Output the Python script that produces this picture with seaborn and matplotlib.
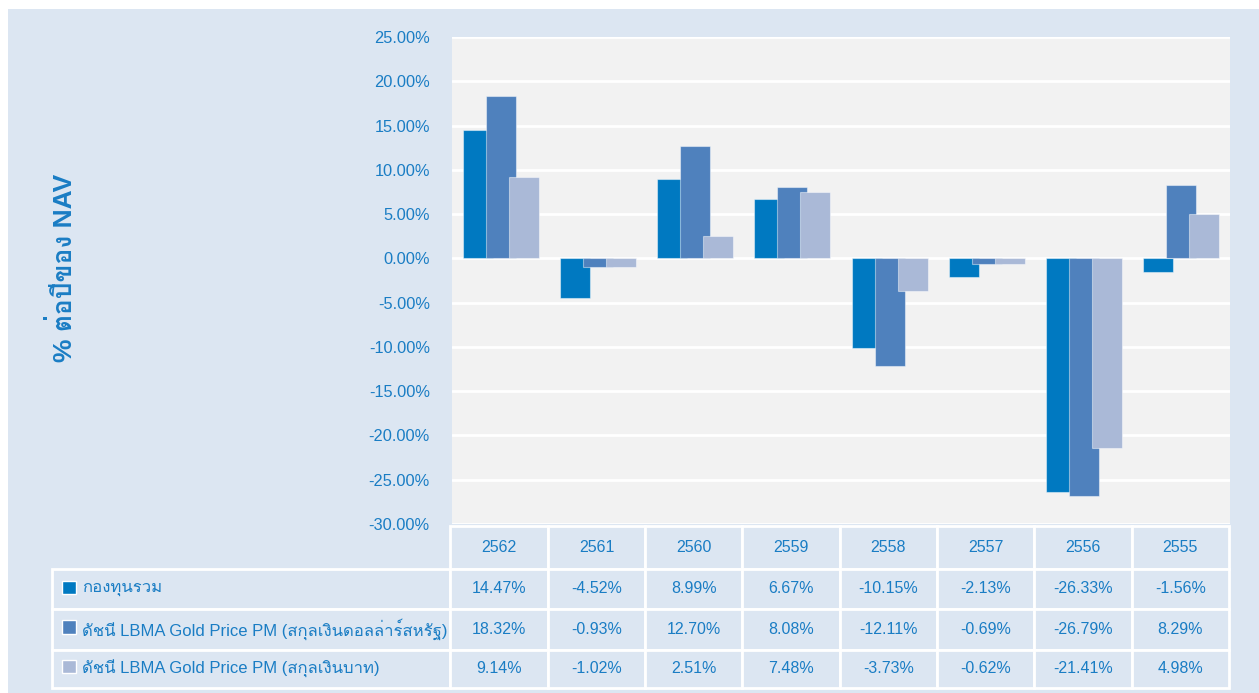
import numpy as np
import pandas as pd
import matplotlib
matplotlib.use("Agg")
import matplotlib.pyplot as plt
from matplotlib import font_manager, ft2font
from matplotlib.patches import Patch, Rectangle
from matplotlib.ticker import FuncFormatter
import seaborn as sns

# data
years = ["2562", "2561", "2560", "2559", "2558", "2557", "2556", "2555"]
series = ["กองทุนรวม",
          "ดัชนี LBMA Gold Price PM (สกุลเงินดอลล่าร์สหรัฐ)",
          "ดัชนี LBMA Gold Price PM (สกุลเงินบาท)"]
fund = [14.47, -4.52, 8.99, 6.67, -10.15, -2.13, -26.33, -1.56]
gold_usd = [18.32, -0.93, 12.70, 8.08, -12.11, -0.69, -26.79, 8.29]
gold_thb = [9.14, -1.02, 2.51, 7.48, -3.73, -0.62, -21.41, 4.98]

colors = ["#0079c1", "#4f81bd", "#aab9d7"]
txt_blue = "#1a7dc4"
bg = "#dce6f2"

# look for any installed font that has thai letters
thai = []
for f in font_manager.fontManager.ttflist:
    if f.name in thai:
        continue
    try:
        if 0x0E01 in ft2font.FT2Font(f.fname).get_charmap():
            thai.append(f.name)
    except Exception:
        pass

sns.set_style("white")
plt.rcParams['font.family'] = ['Liberation Sans'] + thai + ['DejaVu Sans']

df = pd.DataFrame({"year": years * 3,
                   "series": np.repeat(series, len(years)),
                   "value": fund + gold_usd + gold_thb})

W, H = 1259, 693
fig = plt.figure(figsize=(W / 100, H / 100), dpi=100)
fig.patch.set_facecolor("white")
fig.patches.append(Rectangle((8 / W, 0), 1, 1 - 9 / H, transform=fig.transFigure,
                             facecolor=bg, edgecolor="none", zorder=-10))

ax = fig.add_axes([452 / W, 1 - 524 / H, (1230 - 452) / W, (524 - 37) / H])
sns.barplot(data=df, x="year", y="value", hue="series", hue_order=series, order=years,
            palette=colors, width=0.71, saturation=1, errorbar=None, legend=False,
            edgecolor=(1, 1, 1, 0.45), linewidth=0.8, ax=ax)
# bars in the original overlap a bit
for cont in ax.containers:
    for bar in cont:
        cx = bar.get_x() + bar.get_width() / 2
        bar.set_width(0.308)
        bar.set_x(cx - 0.154)

ax.set_facecolor("#f2f2f2")
ax.set_ylim(-30, 25)
ax.set_yticks(range(-30, 26, 5))
ax.yaxis.set_major_formatter(FuncFormatter(lambda v, p: f"{v:.2f}%"))
ax.set_axisbelow(True)
ax.yaxis.grid(True, color="white", linewidth=2)
ax.set_xticks([])
ax.set_xlabel("")
ax.tick_params(axis="y", length=0, pad=16, labelsize=11.8, labelcolor=txt_blue)
for s in ax.spines.values():
    s.set_visible(False)
ax.set_ylabel("% ต่อปีของ NAV", fontsize=19, fontweight="bold", color=txt_blue)
ax.yaxis.set_label_coords((77 - 452) / 778, (524 - 268) / 487)

# table under the chart, row names go in the first column
tax = fig.add_axes([52 / W, 1 - 688 / H, (1229 - 52) / W, (688 - 526) / H])
tax.axis("off")
cell_text = [[""] + years] + [[name] + [f"{v:.2f}%" for v in s]
                              for name, s in zip(series, (fund, gold_usd, gold_thb))]
tbl = tax.table(cellText=cell_text, cellLoc="center", bbox=[0, 0, 1, 1],
                colWidths=[398] + [97.2] * len(years))
tbl.auto_set_font_size(False)
tbl.set_fontsize(11.5)
row_h = [42, 40, 40, 38]
for (r, c), cell in tbl.get_celld().items():
    cell.set_height(row_h[r])
    cell.set_facecolor(bg)
    cell.set_edgecolor("white")
    cell.set_linewidth(2)
    cell.get_text().set_color(txt_blue)
    if c == 0:
        cell.PAD = 30 / 398
        cell._loc = "left"
        cell.get_text().set_horizontalalignment("left")
        cell.get_text().set_fontsize(12)
tbl[0, 0].visible_edges = "open"

# colour keys in front of the row names
handles = [Patch(facecolor=c) for c in colors]
leg = fig.legend(handles=handles, labels=["", "", ""], loc="upper left",
                 bbox_to_anchor=(62 / W, 1 - 581 / H),
                 frameon=False, fontsize=12, labelspacing=1.44, handlelength=0.84,
                 handleheight=0.84, handletextpad=0, borderpad=0, borderaxespad=0)

fig.savefig("out.png", dpi=100, facecolor=fig.get_facecolor())
